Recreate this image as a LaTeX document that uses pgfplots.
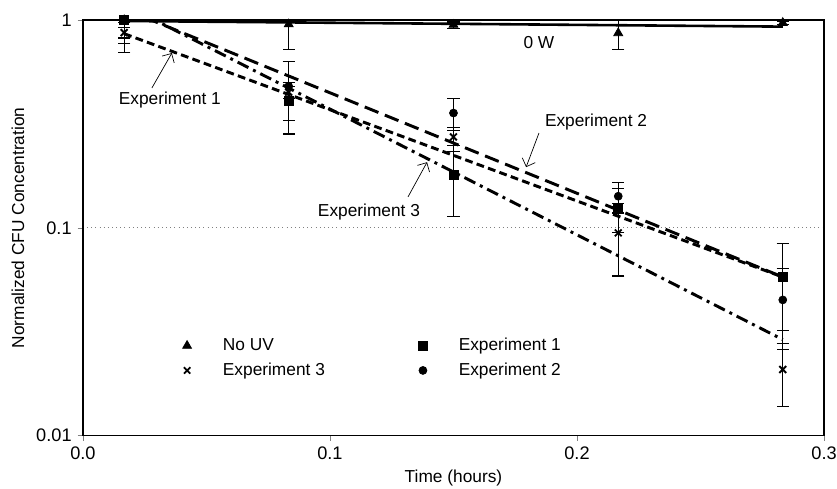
\documentclass[border=0pt]{standalone}
\usepackage{fontspec}
\setmainfont{Liberation Sans}
\usepackage{pgfplots}
\usepackage{pgfplotstable}
\pgfplotsset{compat=1.18}
\usetikzlibrary{arrows.meta}

% x = sampling time (h), y = normalized CFU, ep/em = error bar plus/minus
\pgfplotstableread{
x      y     ep    em
0.0167 1.00  0.03  0.03
0.0833 0.955 0.09  0.23
0.15   0.95  0.03  0.04
0.2167 0.866 0.134 0.141
0.2833 0.97  0.02  0.02
}\noUV

\pgfplotstableread{
x      y     ep    em
0.0167 1.00  0.00  0.30
0.0833 0.41  0.09  0.08
0.15   0.18  0.07  0.067
0.2167 0.125 0.03  0.03
0.2833 0.058 0.026 0.026
}\expA

\pgfplotstableread{
x      y     ep    em
0.0167 1.00  0.00  0.23
0.0833 0.48  0.15  0.197
0.15   0.357 0.063 0.063
0.2167 0.142 0.024 0.024
0.2833 0.045 0.019 0.019
}\expB

\pgfplotstableread{
x      y      ep    em
0.0167 0.87   0.05  0.05
0.0833 0.45   0.03  0.03
0.15   0.274  0.03  0.04
0.2167 0.0946 0.036 0.036
0.2833 0.0208 0.007 0.007
}\expC

\pgfplotsset{
  ebar/.style={
    black, only marks,
    error bars/y dir=both, error bars/y explicit,
    error bars/error bar style={line width=0.7pt},
    error bars/error mark options={rotate=90, mark size=3.5pt, line width=0.7pt}
  }
}

\begin{document}
\begin{tikzpicture}
\begin{axis}[
  scale only axis,
  width=428pt, height=240pt,
  xmin=0, xmax=0.3,
  ymode=log, ymin=0.01, ymax=1,
  xtick={0,0.1,0.2,0.3},
  xticklabels={0.0,0.1,0.2,0.3},
  ytick={0.01,0.1,1},
  yticklabels={0.01,0.1,1},
  yminorticks=false,
  tick align=outside,
  xtick pos=lower, ytick pos=left,
  major tick length=3pt,
  tick label style={font=\fontsize{10.5}{12}\selectfont},
  axis line style={line width=0.9pt},
  ymajorgrids,
  grid style={gray, dotted, line width=0.6pt},
  xlabel={Time (hours)},
  ylabel={Normalized CFU Concentration},
  xlabel style={at={(axis description cs:0.5,-0.101)}, anchor=center},
  ylabel style={at={(axis description cs:-0.0876,0.5)}, anchor=center},
  legend columns=2,
  legend cell align=left,
  legend style={draw=none, fill=none, at={(0.127,0.252)}, anchor=north west,
    row sep=1.5pt,
    /tikz/every even column/.append style={column sep=52pt}},
  legend image code/.code={\draw plot coordinates {(0cm,0cm)}; \path (0.65cm,0cm);},
]

% fitted decay lines
\addplot[black, line width=1.5pt, forget plot] coordinates {(0.0167,0.99) (0.2833,0.93)};
\addplot[black, line width=1.7pt, dash pattern=on 4.5pt off 2.5pt, forget plot]
  coordinates {(0.0167,0.86) (0.2833,0.058)};
\addplot[black, line width=1.7pt, dash pattern=on 8.5pt off 4pt, forget plot]
  coordinates {(0.0167,1.13) (0.2833,0.058)};
\addplot[black, line width=1.7pt, dash pattern=on 7pt off 3pt on 1.7pt off 3pt, forget plot]
  coordinates {(0.0167,1.19) (0.2833,0.029)};

% measured points
\addplot[ebar, mark=triangle*, mark size=3pt, forget plot]
  table[x=x, y=y, y error plus=ep, y error minus=em] {\noUV};
\addplot[ebar, mark=*, mark size=2.3pt, forget plot]
  table[x=x, y=y, y error plus=ep, y error minus=em] {\expB};
\addplot[ebar, mark=x, mark size=2.8pt, mark options={line width=1.1pt}, forget plot]
  table[x=x, y=y, y error plus=ep, y error minus=em] {\expC};
\addplot[ebar, mark=square*, mark size=2.6pt, forget plot]
  table[x=x, y=y, y error plus=ep, y error minus=em] {\expA};

\addlegendimage{black, only marks, mark=triangle*, mark size=3pt}
\addlegendentry{No UV}
\addlegendimage{black, only marks, mark=square*, mark size=2.6pt}
\addlegendentry{Experiment 1}
\addlegendimage{black, only marks, mark=x, mark size=2.6pt, mark options={line width=1pt}}
\addlegendentry{Experiment 3}
\addlegendimage{black, only marks, mark=*, mark size=2.3pt}
\addlegendentry{Experiment 2}

% annotations
\node at (axis cs:0.1846,0.784) {0 W};
\node at (axis cs:0.0352,0.412) {Experiment 1};
\draw[-{Straight Barb[length=4pt]}, line width=0.4pt] (axis cs:0.0279,0.471) -- (axis cs:0.0360,0.694);
\node at (axis cs:0.2077,0.323) {Experiment 2};
\draw[-{Straight Barb[length=4pt]}, line width=0.4pt] (axis cs:0.1846,0.286) -- (axis cs:0.1794,0.196);
\node at (axis cs:0.1158,0.119) {Experiment 3};
\draw[-{Straight Barb[length=4pt]}, line width=0.4pt] (axis cs:0.1316,0.141) -- (axis cs:0.1393,0.207);

\end{axis}
\pgfresetboundingbox
\path[use as bounding box] ([xshift=-47.9pt,yshift=-30.6pt]current axis.south west)
  rectangle ([xshift=7.5pt,yshift=11.6pt]current axis.north east);
\end{tikzpicture}
\end{document}
